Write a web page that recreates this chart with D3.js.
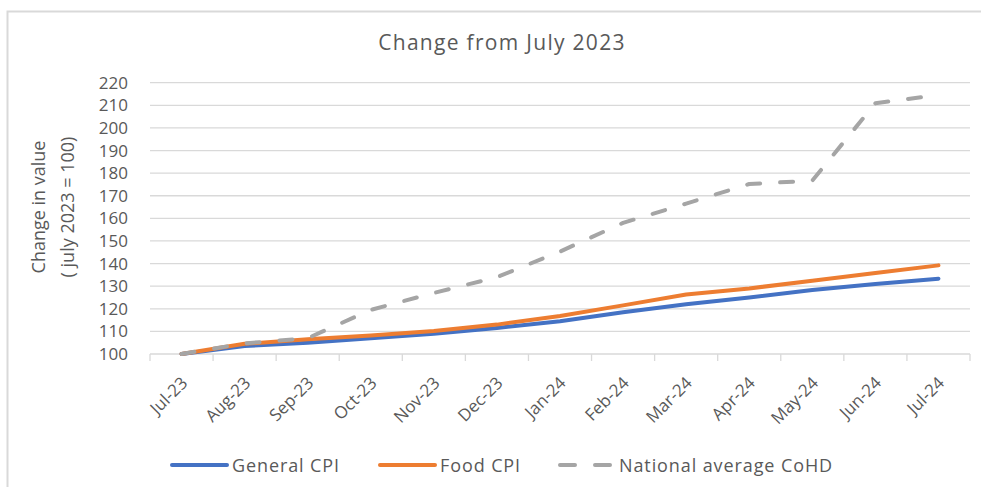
<!DOCTYPE html>
<html>
<head>
<meta charset="utf-8">
<script src="https://cdn.jsdelivr.net/npm/d3@7"></script>
<style>
    body { margin: 0; background: #fff; }
    svg { display: block; font-family: 'Open Sans', 'Noto Sans', sans-serif; }
    text { fill: #595959; }
</style>
</head>
<body>
<svg width="981" height="487"></svg>
<script>
const months = ['Jul-23', 'Aug-23', 'Sep-23', 'Oct-23', 'Nov-23', 'Dec-23',
    'Jan-24', 'Feb-24', 'Mar-24', 'Apr-24', 'May-24', 'Jun-24', 'Jul-24'];
const generalCPI = [100, 103.5, 105, 107, 109, 111.5, 114.5, 118.5, 122, 125, 128.3, 131, 133.3];
const foodCPI = [100, 104.5, 106.5, 108.2, 110.2, 113, 116.8, 121.5, 126.3, 129, 132.4, 135.8, 139.2];
const cohd = [100, 104.7, 107, 119.5, 127, 134, 145.3, 158, 166.5, 175.2, 176.7, 210.9, 214.6];
const yTicks = [100, 110, 120, 130, 140, 150, 160, 170, 180, 190, 200, 210, 220];

const series = [
    { name: 'General CPI', values: generalCPI, color: '#4472c4', dash: null },
    { name: 'Food CPI', values: foodCPI, color: '#ed7d31', dash: null },
    { name: 'National average CoHD', values: cohd, color: '#a5a5a5', dash: '13,20' }
];

const svg = d3.select('svg');
const plotLeft = 150, plotRight = 970, plotTop = 82.7, plotBottom = 354;

// outer chart border (only top and left visible)
svg.append('path')
    .attr('d', 'M7.5,487 V11.5 H981')
    .attr('fill', 'none')
    .attr('stroke', '#d9d9d9')
    .attr('stroke-width', 2);

const x = d3.scaleBand().domain(months).range([plotLeft, plotRight]);
const y = d3.scaleLinear().domain([100, 220]).range([plotBottom, plotTop]);

// gridlines
svg.append('g')
    .selectAll('line')
    .data(yTicks)
    .join('line')
    .attr('x1', plotLeft).attr('x2', plotRight)
    .attr('y1', d => y(d)).attr('y2', d => y(d))
    .attr('stroke', '#d9d9d9')
    .attr('stroke-width', 1.3);

// y labels
svg.append('g')
    .selectAll('text')
    .data(yTicks)
    .join('text')
    .attr('x', 128)
    .attr('y', d => y(d) + 6)
    .attr('text-anchor', 'end')
    .style('font-size', '17px')
    .text(d => d);

// x axis ticks
const tickXs = months.map(m => x(m)).concat([plotRight]);
svg.append('g')
    .selectAll('line')
    .data(tickXs)
    .join('line')
    .attr('x1', d => d).attr('x2', d => d)
    .attr('y1', plotBottom).attr('y2', plotBottom + 7)
    .attr('stroke', '#d9d9d9')
    .attr('stroke-width', 1.3);

svg.append('g')
    .selectAll('text')
    .data(months)
    .join('text')
    .attr('transform', d => `translate(${x(d) + x.bandwidth() / 2 + 7},${plotBottom + 30}) rotate(-45)`)
    .attr('text-anchor', 'end')
    .style('font-size', '17px')
    .text(d => d);

// lines
const line = d3.line()
    .x((d, i) => x(months[i]) + x.bandwidth() / 2)
    .y(d => y(d));

series.forEach(s => {
    svg.append('path')
        .datum(s.values)
        .attr('d', line)
        .attr('fill', 'none')
        .attr('stroke', s.color)
        .attr('stroke-width', 4)
        .attr('stroke-linecap', 'round')
        .attr('stroke-linejoin', 'round')
        .attr('stroke-dasharray', s.dash);
});

// title
svg.append('text')
    .attr('x', 502)
    .attr('y', 50)
    .attr('text-anchor', 'middle')
    .style('font-size', '21px')
    .style('letter-spacing', '1.3px')
    .text('Change from July 2023');

// y axis title
const yTitle = svg.append('text')
    .attr('transform', 'translate(45,207) rotate(-90)')
    .attr('text-anchor', 'middle')
    .style('font-size', '18px');
yTitle.append('tspan').attr('x', 0).attr('dy', 0).text('Change in value');
yTitle.append('tspan').attr('x', 0).attr('dy', 29).text('( july 2023 = 100)');

// legend
const legendItems = [
    { s: series[0], x1: 172, x2: 227, tx: 232 },
    { s: series[1], x1: 380, x2: 435, tx: 440 },
    { s: series[2], x1: 560, x2: 612, tx: 619 }
];
legendItems.forEach(l => {
    svg.append('line')
        .attr('x1', l.x1).attr('x2', l.x2)
        .attr('y1', 465).attr('y2', 465)
        .attr('stroke', l.s.color)
        .attr('stroke-width', 4)
        .attr('stroke-linecap', 'round')
        .attr('stroke-dasharray', l.s.dash ? '15,20' : null);
    svg.append('text')
        .attr('x', l.tx)
        .attr('y', 471.5)
        .style('font-size', '18px')
        .style('letter-spacing', '0.9px')
        .text(l.s.name);
});
</script>
</body>
</html>
